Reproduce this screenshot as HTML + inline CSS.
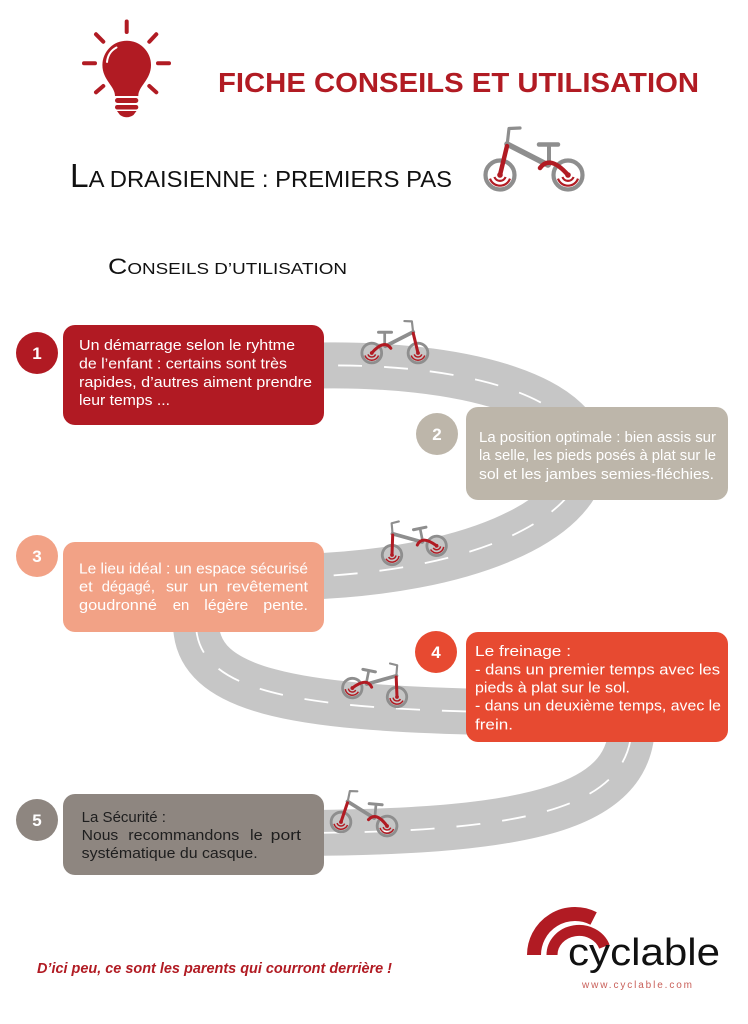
<!DOCTYPE html>
<html><head><meta charset="utf-8"><style>
html,body{margin:0;padding:0;background:#fff;}
svg{display:block;font-family:"Liberation Sans",sans-serif;}
</style></head><body>
<svg width="748" height="1024" viewBox="0 0 748 1024" xmlns="http://www.w3.org/2000/svg">
<defs>
<g id="bike" fill="none" stroke-linecap="round">
  <circle cx="0" cy="0" r="14.5" stroke="#8e8e8e" stroke-width="4.2"/>
  <circle cx="68" cy="0" r="14.5" stroke="#8e8e8e" stroke-width="4.2"/>
  <path d="M48 -10 L7 -31" stroke="#8e8e8e" stroke-width="5.5"/>
  <path d="M49 -10 L49 -28" stroke="#8e8e8e" stroke-width="4"/>
  <path d="M39 -30.5 L58 -30.5" stroke="#8e8e8e" stroke-width="4.5"/>
  <path d="M7 -29 L9 -46.5 L20 -47" stroke="#8e8e8e" stroke-width="3.2" stroke-linejoin="round"/>
  <path d="M7 -29 L0 0" stroke="#b11b23" stroke-width="4.5"/>
  <path d="M40 -7 Q50 -20.5 68 0" stroke="#b11b23" stroke-width="4.5"/>
  <circle cx="0" cy="0" r="2.8" fill="#b11b23" stroke="none"/>
  <circle cx="68" cy="0" r="2.8" fill="#b11b23" stroke="none"/>
  <path d="M-5.6 2 A6 6 0 0 0 5.6 2" stroke="#b11b23" stroke-width="2.2" stroke-linecap="butt"/>
  <path d="M-10 3.6 A10.6 10.6 0 0 0 10 3.6" stroke="#b11b23" stroke-width="2.2" stroke-linecap="butt"/>
  <path d="M62.4 2 A6 6 0 0 0 73.6 2" stroke="#b11b23" stroke-width="2.2" stroke-linecap="butt"/>
  <path d="M58 3.6 A10.6 10.6 0 0 0 78 3.6" stroke="#b11b23" stroke-width="2.2" stroke-linecap="butt"/>
</g>
</defs>

<!-- Lightbulb -->
<g stroke="#b11b23" stroke-width="4" stroke-linecap="round" fill="none">
  <line x1="126.7" y1="21.5" x2="126.7" y2="32"/>
  <line x1="84" y1="63.3" x2="95" y2="63.3"/>
  <line x1="158" y1="63.3" x2="169" y2="63.3"/>
  <line x1="96" y1="34.3" x2="103.3" y2="41.7"/>
  <line x1="156.3" y1="34.3" x2="149.3" y2="41.7"/>
  <line x1="96" y1="92.3" x2="103.3" y2="86"/>
  <line x1="156.3" y1="92.3" x2="149.3" y2="86"/>
</g>
<path d="M115 96 C115 86 102.4 80 102.4 65 A24.3 24.3 0 0 1 151 65 C151 80 138.3 86 138.3 96 Z" fill="#b11b23"/>
<path d="M107 62 Q108 52 116.5 47.5" stroke="#fff" stroke-width="2" fill="none" stroke-linecap="round"/>
<rect x="115" y="98" width="23.3" height="5" rx="2.5" fill="#b11b23"/>
<rect x="115" y="105" width="23.3" height="4.5" rx="2.2" fill="#b11b23"/>
<path d="M117 111 L136.5 111 L133.5 115 Q126.7 119.5 120 115 Z" fill="#b11b23"/>

<!-- Titles -->
<text x="218" y="92" font-size="28" font-weight="bold" fill="#b11b23" textLength="481" lengthAdjust="spacingAndGlyphs">FICHE CONSEILS ET UTILISATION</text>
<text x="70" y="187" fill="#111" textLength="382" lengthAdjust="spacingAndGlyphs"><tspan font-size="33">L</tspan><tspan font-size="23.5">A DRAISIENNE : PREMIERS PAS</tspan></text>
<use href="#bike" transform="translate(500,175)"/>
<text x="108" y="274" fill="#111" textLength="239" lengthAdjust="spacingAndGlyphs"><tspan font-size="22">C</tspan><tspan font-size="15.5">ONSEILS D’UTILISATION</tspan></text>

<!-- Road -->
<g fill="none">
  <path d="M300 366 C470 360 590 400 583 462 C578 520 470 572 300 577" stroke="#c6c6c6" stroke-width="46"/>
  <path d="M196 600 L196 625 C198 690 290 708 490 712" stroke="#c6c6c6" stroke-width="46"/>
  <path d="M632 720 C634 805 540 832 300 833" stroke="#c6c6c6" stroke-width="46"/>
  <path d="M300 366 C470 360 590 400 583 462 C578 520 470 572 300 577" stroke="#fff" stroke-width="1.8" stroke-dasharray="24 22" stroke-dashoffset="8"/>
  <path d="M196 600 L196 625 C198 690 290 708 490 712" stroke="#fff" stroke-width="1.8" stroke-dasharray="24 22" stroke-dashoffset="-30"/>
  <path d="M632 720 C634 805 540 832 300 833" stroke="#fff" stroke-width="1.8" stroke-dasharray="24 22" stroke-dashoffset="-20"/>
</g>

<!-- Road bikes -->
<use href="#bike" transform="translate(418,353) scale(-0.68,0.68)"/>
<use href="#bike" transform="translate(392,555) rotate(-11.6) scale(0.67)"/>
<use href="#bike" transform="translate(397,697) rotate(11.3) scale(-0.67,0.67)"/>
<use href="#bike" transform="translate(341,822) rotate(5) scale(0.68)"/>

<!-- Box 1 -->
<circle cx="37" cy="353" r="21" fill="#b11a23"/>
<text x="37" y="359" font-size="17" font-weight="bold" fill="#fff" text-anchor="middle">1</text>
<rect x="63" y="325" width="261" height="100" rx="12" fill="#b11a23"/>
<g fill="#fff" font-size="15">
  <text x="79" y="350" textLength="216" lengthAdjust="spacingAndGlyphs">Un démarrage selon le ryhtme</text>
  <text x="79" y="368.5" textLength="208" lengthAdjust="spacingAndGlyphs">de l’enfant : certains sont très</text>
  <text x="79" y="387" textLength="233" lengthAdjust="spacingAndGlyphs">rapides, d’autres aiment prendre</text>
  <text x="79" y="405" textLength="91" lengthAdjust="spacingAndGlyphs">leur temps ...</text>
</g>

<!-- Box 2 -->
<circle cx="437" cy="434" r="21" fill="#bdb6aa"/>
<text x="437" y="440" font-size="17" font-weight="bold" fill="#fff" text-anchor="middle">2</text>
<rect x="466" y="407" width="262" height="93" rx="12" fill="#bdb6aa"/>
<g fill="#fff" font-size="15">
  <text x="479" y="442" textLength="237" lengthAdjust="spacingAndGlyphs">La position optimale : bien assis sur</text>
  <text x="479" y="460" textLength="237" lengthAdjust="spacingAndGlyphs">la selle, les pieds posés à plat sur le</text>
  <text x="479" y="479" textLength="235" lengthAdjust="spacingAndGlyphs">sol et les jambes semies-fléchies.</text>
</g>

<!-- Box 3 -->
<circle cx="37" cy="556" r="21" fill="#f2a286"/>
<text x="37" y="562" font-size="17" font-weight="bold" fill="#fff" text-anchor="middle">3</text>
<rect x="63" y="542" width="261" height="90" rx="12" fill="#f2a286"/>
<g fill="#fff" font-size="15" lengthAdjust="spacingAndGlyphs">
  <text x="79" y="573.3" textLength="229" lengthAdjust="spacingAndGlyphs">Le lieu idéal : un espace sécurisé</text>
  <text x="79" y="591.7" textLength="13.7" lengthAdjust="spacingAndGlyphs">et</text>
  <text x="101.7" y="591.7" textLength="53.3" lengthAdjust="spacingAndGlyphs">dégagé,</text>
  <text x="166" y="591.7" textLength="22" lengthAdjust="spacingAndGlyphs">sur</text>
  <text x="199" y="591.7" textLength="19" lengthAdjust="spacingAndGlyphs">un</text>
  <text x="226.7" y="591.7" textLength="81.3" lengthAdjust="spacingAndGlyphs">revêtement</text>
  <text x="79" y="610" textLength="78" lengthAdjust="spacingAndGlyphs">goudronné</text>
  <text x="172.7" y="610" textLength="16.6" lengthAdjust="spacingAndGlyphs">en</text>
  <text x="204.3" y="610" textLength="44" lengthAdjust="spacingAndGlyphs">légère</text>
  <text x="263.3" y="610" textLength="44.7" lengthAdjust="spacingAndGlyphs">pente.</text>
</g>

<!-- Box 4 -->
<circle cx="436" cy="652" r="21" fill="#e74a31"/>
<text x="436" y="658" font-size="17" font-weight="bold" fill="#fff" text-anchor="middle">4</text>
<rect x="466" y="632" width="262" height="110" rx="12" fill="#e74a31"/>
<g fill="#fff" font-size="15">
  <text x="475" y="656" textLength="96" lengthAdjust="spacingAndGlyphs">Le freinage   :</text>
  <text x="475" y="674.3" textLength="245" lengthAdjust="spacingAndGlyphs">- dans un premier temps avec les</text>
  <text x="475" y="692.7" textLength="155" lengthAdjust="spacingAndGlyphs">pieds à plat sur le sol.</text>
  <text x="475" y="710.7" textLength="246" lengthAdjust="spacingAndGlyphs">- dans un deuxième temps, avec le</text>
  <text x="475" y="729.3" textLength="38" lengthAdjust="spacingAndGlyphs">frein.</text>
</g>

<!-- Box 5 -->
<circle cx="37" cy="820" r="21" fill="#8e8680"/>
<text x="37" y="826" font-size="17" font-weight="bold" fill="#fff" text-anchor="middle">5</text>
<rect x="63" y="794" width="261" height="81" rx="12" fill="#8e8680"/>
<g fill="#1e1e1e" font-size="15">
  <text x="81.7" y="822" textLength="84.3" lengthAdjust="spacingAndGlyphs">La Sécurité :</text>
  <text x="81.7" y="840" textLength="36.6" lengthAdjust="spacingAndGlyphs">Nous</text>
  <text x="128.3" y="840" textLength="111" lengthAdjust="spacingAndGlyphs">recommandons</text>
  <text x="250" y="840" textLength="12.7" lengthAdjust="spacingAndGlyphs">le</text>
  <text x="270.7" y="840" textLength="30.3" lengthAdjust="spacingAndGlyphs">port</text>
  <text x="81.7" y="858" textLength="176" lengthAdjust="spacingAndGlyphs">systématique du casque.</text>
</g>

<!-- Tagline -->
<text x="37" y="973" font-size="15" font-weight="bold" font-style="italic" fill="#b11b23" textLength="355" lengthAdjust="spacingAndGlyphs">D’ici peu, ce sont les parents qui courront derrière !</text>

<!-- Logo -->
<path d="M534 955 A41 41 0 0 1 593.6 918.5" stroke="#b11b23" stroke-width="14" fill="none"/>
<path d="M552 955 A27 24.5 0 0 1 604.4 946.6" stroke="#b11b23" stroke-width="11" fill="none"/>
<text x="568" y="965" font-size="38" fill="#111" textLength="152" lengthAdjust="spacingAndGlyphs">cyclable</text>
<text x="582" y="988" font-size="10" fill="#c9605a" textLength="110" lengthAdjust="spacing">www.cyclable.com</text>
</svg>
</body></html>
